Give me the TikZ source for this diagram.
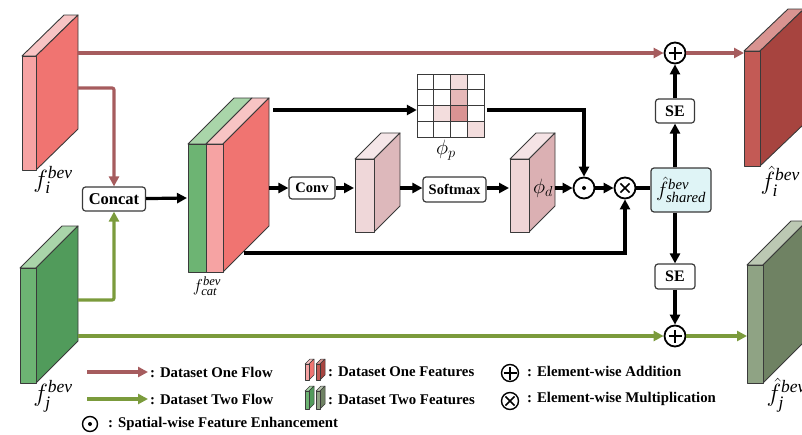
\documentclass[tikz,border=0pt]{standalone}
\usepackage{amsmath}
\usepackage{fontspec}
\setmainfont{Liberation Serif}
\usetikzlibrary{arrows.meta,calc}

\definecolor{flowone}{HTML}{A65C5E}
\definecolor{flowtwo}{HTML}{7B9B3C}
\definecolor{edge}{HTML}{3A3A3A}
% feature slab colours: front / side / top
\definecolor{fiF}{HTML}{F6A3A3}\definecolor{fiS}{HTML}{F07471}\definecolor{fiT}{HTML}{F8C4C4}
\definecolor{fjF}{HTML}{6DB473}\definecolor{fjS}{HTML}{519B5B}\definecolor{fjT}{HTML}{A9D5A9}
\definecolor{mdF}{HTML}{EFD7D9}\definecolor{mdS}{HTML}{DDB8BB}\definecolor{mdT}{HTML}{F5E6E8}
\definecolor{pdF}{HTML}{F0D5D7}\definecolor{pdS}{HTML}{DBB0B3}\definecolor{pdT}{HTML}{F5E3E5}
\definecolor{oiF}{HTML}{C35A55}\definecolor{oiS}{HTML}{A7443F}\definecolor{oiT}{HTML}{D99491}
\definecolor{ojF}{HTML}{8FA384}\definecolor{ojS}{HTML}{6F8263}\definecolor{ojT}{HTML}{BCC8B3}
\definecolor{cellA}{HTML}{F3DDDD}\definecolor{cellB}{HTML}{E6B8B8}\definecolor{cellC}{HTML}{D99393}
\definecolor{sharedfill}{HTML}{DFF4F6}

% slab: front x-left, front x-right, y-top, y-bottom, depth dx, depth dy, front, side, top
\newcommand\slab[9]{%
  \filldraw[slabedge,fill=#9] (#1,#3) -- (#2,#3) -- ++(#5,#6) -- ++({#1-#2},0) -- cycle;
  \filldraw[slabedge,fill=#8] (#2,#3) -- ++(#5,#6) -- ++(0,{#4-#3}) -- (#2,#4) -- cycle;
  \filldraw[slabedge,fill=#7] (#1,#3) rectangle (#2,#4);}

\newcommand\lbl[1]{\fontsize{#1}{#1}\selectfont}

\begin{document}
\begin{tikzpicture}[x=1pt,y=-1pt,
  slabedge/.style={draw=edge,line width=0.9pt,line join=round},
  flowR/.style={draw=flowone,line width=3.2pt,-{Triangle[length=10pt,width=10pt]}},
  flowG/.style={draw=flowtwo,line width=3.2pt,-{Triangle[length=10pt,width=10pt]}},
  blk/.style={draw=black,line width=3.2pt,-{Triangle[length=10pt,width=10pt]}},
  blkline/.style={draw=black,line width=3.2pt},
  opbox/.style={draw=edge,line width=1.2pt,rounded corners=3pt,fill=white,inner sep=0pt,font=\lbl{14.5}\bfseries},
  opc/.style={circle,draw=black,line width=1.8pt,fill=white,inner sep=0pt,minimum size=21pt},
  oplusop/.style={opc,path picture={\draw[black,line width=1.5pt]
     ([xshift=-6.5pt]path picture bounding box.center) -- ([xshift=6.5pt]path picture bounding box.center)
     ([yshift=-6.5pt]path picture bounding box.center) -- ([yshift=6.5pt]path picture bounding box.center);}},
  otimesop/.style={opc,path picture={\draw[black,line width=1.5pt]
     ([shift={(-4.6pt,-4.6pt)}]path picture bounding box.center) -- ([shift={(4.6pt,4.6pt)}]path picture bounding box.center)
     ([shift={(-4.6pt,4.6pt)}]path picture bounding box.center) -- ([shift={(4.6pt,-4.6pt)}]path picture bounding box.center);}},
  odotop/.style={opc,path picture={\fill[black] (path picture bounding box.center) circle (2pt);}},
  legtext/.style={anchor=west,inner sep=0pt,font=\lbl{14.8}\bfseries}
]
\useasboundingbox (0,0) rectangle (802,434);
\clip (0,0) rectangle (802,434);

% ---- input features ----
\slab{22}{36}{56}{170}{42}{-41}{fiF}{fiS}{fiT}
\slab{20}{36}{268}{383}{42}{-42}{fjF}{fjS}{fjT}
\node (lfi) at (53,180) {\lbl{25}$f_{\textit{i}}^{\textit{bev}}$};
\node (lfj) at (53,396) {\lbl{25}$f_{\textit{j}}^{\textit{bev}}$};

% ---- concatenated feature ----
\filldraw[slabedge,fill=fjT] (188,144) -- (206,144) -- (252,98) -- (234,98) -- cycle;
\filldraw[slabedge,fill=fiT] (206,144) -- (223,144) -- (269,98) -- (252,98) -- cycle;
\filldraw[slabedge,fill=fiS] (223,144) -- (269,98) -- (269,226) -- (223,272) -- cycle;
\filldraw[slabedge,fill=fjF] (188,144) rectangle (206,272);
\filldraw[slabedge,fill=fiF] (206,144) rectangle (223,272);
\node (lcat) at (207,286) {\lbl{18}$f_{\textit{cat}}^{\textit{bev}}$};

% ---- intermediate features ----
\slab{355}{374}{159}{232}{26}{-26}{mdF}{mdS}{mdT}
\slab{510}{529}{159}{232}{26}{-26}{pdF}{pdS}{pdT}
\node (lpd) at (543,188) {\lbl{22}$\phi_{d}$};

% ---- position grid ----
\node[inner sep=0pt,minimum width=67pt,minimum height=63pt] (grid) at (450.5,105.5) {};
\fill[white] (417,74) rectangle (484,137);
\foreach \c/\r/\col in {2/0/cellA,2/1/cellB,2/2/cellC,1/2/cellA,3/3/cellA}
  \fill[\col] ({417+\c*16.75},{74+\r*15.75}) rectangle ++(16.75,15.75);
\foreach \k in {1,2,3} {
  \draw[edge,line width=0.9pt] ({417+\k*16.75},74) -- ++(0,63);
  \draw[edge,line width=0.9pt] (417,{74+\k*15.75}) -- ++(67,0);}
\draw[edge,line width=0.9pt] (417,74) rectangle (484,137);
\node (lpp) at (446,150) {\lbl{22}$\phi_{p}$};

% ---- output features ----
\slab{744}{760}{51}{166}{44}{-42}{oiF}{oiS}{oiT}
\slab{747}{763}{265}{383}{44}{-44}{ojF}{ojS}{ojT}
\node[anchor=west] (lfio) at (757,181) {\lbl{25}$\hat{f}_{\textit{i}}^{\textit{bev}}$};
\node[anchor=west] (lfjo) at (763,395) {\lbl{25}$\hat{f}_{\textit{j}}^{\textit{bev}}$};

% ---- operation boxes ----
\node[opbox,minimum width=63pt,minimum height=24pt,font=\lbl{16.5}\bfseries] (concat) at (114,199) {Concat};
\node[opbox,minimum width=46pt,minimum height=22pt] (conv) at (312,188) {Conv};
\node[opbox,minimum width=63pt,minimum height=25pt] (softmax) at (454.5,189.5) {Softmax};
\node[opbox,minimum width=39pt,minimum height=24pt,font=\lbl{16}\bfseries] (se1) at (675,111) {SE};
\node[opbox,minimum width=40pt,minimum height=25pt,font=\lbl{16}\bfseries] (se2) at (675,276.5) {SE};
\node[opbox,fill=sharedfill,minimum width=60pt,minimum height=44pt,font=\normalfont] (shared) at (681,190)
  {\lbl{21}$\hat{f}_{\textit{shared}}^{\textit{bev}}$};

\node[odotop] (dot) at (584,188) {};
\node[otimesop] (tim) at (625,188) {};
\node[oplusop] (p1) at (675,53) {};
\node[oplusop] (p2) at (675,336) {};

% ---- attachment points on the slabs ----
\coordinate (fiA) at (78,53);   \coordinate (fiB) at (78,88);
\coordinate (fjA) at (78,300);  \coordinate (fjB) at (78,336);
\coordinate (catIn) at (187,198);
\coordinate (catA) at (273,110); \coordinate (catB) at (269,188); \coordinate (catC) at (244,253);
\coordinate (midIn) at (354,188); \coordinate (midOut) at (400,188);
\coordinate (pdIn) at (509,188);  \coordinate (pdOut) at (555,188);
\coordinate (oiIn) at (744,53);   \coordinate (ojIn) at (747,336);

% ---- connectors ----
\draw[flowR] (fiA) -- (p1);
\draw[flowR,rounded corners=2pt] (fiB) -| (concat);
\draw[flowG,rounded corners=2pt] (fjA) -| (concat);
\draw[flowG] (fjB) -- (p2);
\draw[flowR] (p1) -- (oiIn);
\draw[flowG] (p2) -- (ojIn);

\draw[blk] (concat) -- (catIn);
\draw[blk] (catA) -- (grid.west |- catA);
\draw[blk] (catB) -- (conv);
\draw[blk] (conv) -- (midIn);
\draw[blk] (midOut) -- (softmax.west |- midOut);
\draw[blk] (softmax.east |- pdIn) -- (pdIn);
\draw[blk] (pdOut) -- (dot);
\draw[blk] ([xshift=3pt]grid.east |- catA) -| (dot);
\draw[blk] (dot) -- (tim);
\draw[blk] (catC) -| (tim);
\draw[blkline] (tim) -- (tim -| shared.west);
\draw[blk] (shared.north -| se1) -- (se1);
\draw[blk] (se1) -- (p1);
\draw[blk] (shared.south -| se2) -- (se2);
\draw[blk] (se2) -- (p2);

% ---- legend ----
\coordinate (lgRa) at (87,372); \coordinate (lgRb) at (148,372);
\coordinate (lgGa) at (87,399); \coordinate (lgGb) at (148,399);
\draw[flowR] (lgRa) -- (lgRb);
\draw[flowG] (lgGa) -- (lgGb);
\node[legtext] (tR) at (150,372) {: Dataset One Flow};
\node[legtext] (tG) at (150,399) {: Dataset Two Flow};
\node[odotop,minimum size=15pt,line width=1.4pt] (lgdot) at (90,424) {};
\node[legtext] (tdot) at (108,424) {: Spatial-wise Feature Enhancement};

\begin{scope}[slabedge/.style={draw=edge,line width=0.5pt,line join=round}]
  \slab{305}{309}{364}{380}{5}{-5}{fiF}{fiS}{fiT}
  \slab{316}{320}{364}{380}{5}{-5}{oiF}{oiS}{oiT}
  \slab{305}{309}{391}{409}{5}{-5}{fjF}{fjS}{fjT}
  \slab{316}{320}{391}{409}{5}{-5}{ojF}{ojS}{ojT}
\end{scope}
\node[legtext] (tF1) at (328,372) {: Dataset One Features};
\node[legtext] (tF2) at (328,400) {: Dataset Two Features};

\node[oplusop,minimum size=17pt,line width=1.4pt] (lgplus) at (510,373) {};
\node[otimesop,minimum size=17pt,line width=1.4pt] (lgtim) at (510,401) {};
\node[legtext] (tplus) at (527,371) {: Element-wise Addition};
\node[legtext] (ttim) at (527,399) {: Element-wise Multiplication};
\end{tikzpicture}
\end{document}
